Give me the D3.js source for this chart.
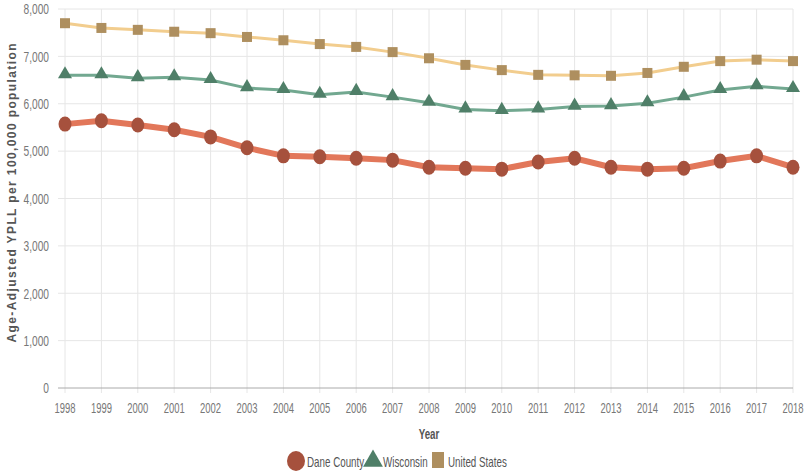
<!DOCTYPE html>
<html>
<head>
<meta charset="utf-8">
<script src="https://cdn.jsdelivr.net/npm/d3@7"></script>
<style>
body { margin: 0; background: #fff; }
text { font-family: "Liberation Sans", Arial, sans-serif; }
</style>
</head>
<body>
<div id="chart"></div>
<script>
var years = d3.range(1998, 2019);
var yTicks = [0, 1000, 2000, 3000, 4000, 5000, 6000, 7000, 8000];

var daneCounty = [5570, 5640, 5550, 5450, 5300, 5070, 4900, 4880, 4850, 4810, 4660, 4640, 4620, 4770, 4850, 4660, 4620, 4640, 4790, 4900, 4660];
var wisconsin = [6600, 6600, 6540, 6560, 6500, 6330, 6290, 6190, 6250, 6140, 6020, 5880, 5850, 5880, 5940, 5950, 6010, 6140, 6290, 6370, 6310];
var unitedStates = [7700, 7600, 7560, 7520, 7490, 7410, 7340, 7260, 7200, 7090, 6960, 6820, 6710, 6610, 6600, 6590, 6650, 6780, 6900, 6930, 6900];

var seriesNames = ['Dane County', 'Wisconsin', 'United States'];

var width = 807, height = 472;
var margin = {top: 9, right: 14, bottom: 84, left: 65};

// the source uses a narrow font: draw at 0,0 and squeeze with a transform
function place(sel, fx, fy, f){
	sel.attr('transform', function(d, i){
		return 'translate(' + [fx(d, i), fy(d, i)] + ') scale(' + f + ',1)';
	});
}

var svg = d3.select('#chart').append('svg')
	.attr('width', width).attr('height', height);

var x = d3.scalePoint().domain(years).range([margin.left, width - margin.right]);
var y = d3.scaleLinear().domain([0, 8000]).range([height - margin.bottom, margin.top]);

// grid
svg.append('g').selectAll('line')
	.data(years).enter().append('line')
	.attr('x1', function(d){ return x(d); })
	.attr('x2', function(d){ return x(d); })
	.attr('y1', y(8000)).attr('y2', y(0) + 5)
	.attr('stroke', '#e6e6e6').attr('stroke-width', 1);

svg.append('g').selectAll('line')
	.data(yTicks.slice(1)).enter().append('line')
	.attr('x1', margin.left - 7).attr('x2', width - margin.right)
	.attr('y1', function(d){ return y(d); })
	.attr('y2', function(d){ return y(d); })
	.attr('stroke', '#e6e6e6').attr('stroke-width', 1);

svg.append('line')
	.attr('x1', margin.left - 7).attr('x2', width - margin.right)
	.attr('y1', y(0)).attr('y2', y(0))
	.attr('stroke', '#aaa').attr('stroke-width', 1);

// tick labels
svg.append('g').selectAll('text')
	.data(yTicks).enter().append('text')
	.attr('dy', '0.35em')
	.attr('text-anchor', 'end')
	.attr('font-size', 15)
	.attr('fill', '#777')
	.text(d3.format(','))
	.call(place, function(){ return margin.left - 16; }, function(d){ return y(d); }, 0.68);

svg.append('g').selectAll('text')
	.data(years).enter().append('text')
	.attr('text-anchor', 'middle')
	.attr('font-size', 15)
	.attr('fill', '#777')
	.text(function(d){ return d; })
	.call(place, function(d){ return x(d); }, function(){ return y(0) + 25; }, 0.63);

// axis titles
svg.append('text')
	.attr('transform', 'translate(16,' + 193 + ') rotate(-90)')
	.attr('text-anchor', 'middle')
	.attr('font-size', 12)
	.attr('font-weight', 'bold')
	.attr('fill', '#555')
	.attr('textLength', 299).attr('lengthAdjust', 'spacing')
	.text('Age-Adjusted YPLL per 100,000 population');

svg.append('text')
	.attr('transform', 'translate(429,439) scale(0.65,1)')
	.attr('text-anchor', 'middle')
	.attr('font-size', 15)
	.attr('font-weight', 'bold')
	.attr('fill', '#555')
	.text('Year');

var line = d3.line()
	.x(function(d, i){ return x(years[i]); })
	.y(function(d){ return y(d); });

// United States
svg.append('path').datum(unitedStates)
	.attr('d', line).attr('fill', 'none')
	.attr('stroke', '#f2cd8e').attr('stroke-width', 3);
svg.append('g').selectAll('rect')
	.data(unitedStates).enter().append('rect')
	.attr('x', function(d, i){ return x(years[i]) - 5; })
	.attr('y', function(d){ return y(d) - 5; })
	.attr('width', 10).attr('height', 10)
	.attr('fill', '#ae8f5f');

// Wisconsin
svg.append('path').datum(wisconsin)
	.attr('d', line).attr('fill', 'none')
	.attr('stroke', '#72a890').attr('stroke-width', 3);
var tri = d3.symbol().type(d3.symbolTriangle).size(85);
svg.append('g').selectAll('path')
	.data(wisconsin).enter().append('path')
	.attr('d', tri)
	.attr('transform', function(d, i){ return 'translate(' + [x(years[i]), y(d) - 1] + ')'; })
	.attr('fill', '#4f7f68');

// Dane County
svg.append('path').datum(daneCounty)
	.attr('d', line).attr('fill', 'none')
	.attr('stroke', '#e2775a').attr('stroke-width', 6);
svg.append('g').selectAll('ellipse')
	.data(daneCounty).enter().append('ellipse')
	.attr('cx', function(d, i){ return x(years[i]); })
	.attr('cy', function(d){ return y(d); })
	.attr('rx', 6.5).attr('ry', 7.5)
	.attr('fill', '#a6513d');

// legend
var legend = svg.append('g');
legend.append('ellipse').attr('cx', 296).attr('cy', 461).attr('rx', 9).attr('ry', 10).attr('fill', '#a6513d');
legend.append('path').attr('d', d3.symbol().type(d3.symbolTriangle).size(170))
	.attr('transform', 'translate(373,461)').attr('fill', '#4f7f68');
legend.append('rect').attr('x', 432).attr('y', 452).attr('width', 12).attr('height', 16).attr('fill', '#ae8f5f');

var legendX = [307, 383, 448];
legend.selectAll('text')
	.data(seriesNames).enter().append('text')
	.attr('font-size', 14)
	.attr('fill', '#555')
	.text(function(d){ return d; })
	.call(place, function(d, i){ return legendX[i]; }, function(){ return 467; }, 0.7);
</script>
</body>
</html>
